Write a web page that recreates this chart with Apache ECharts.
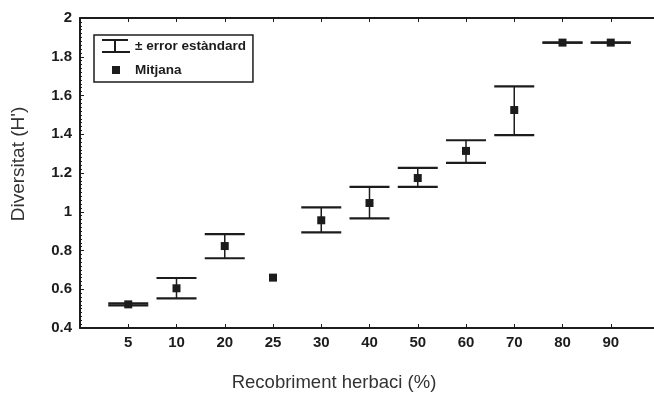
<!DOCTYPE html>
<html>
<head>
<meta charset="utf-8">
<script src="https://cdn.jsdelivr.net/npm/echarts@6/dist/echarts.min.js"></script>
<style>
  html, body { margin: 0; padding: 0; background: #fff; }
  #chart { width: 654px; height: 394px; }
</style>
</head>
<body>
<div id="chart"></div>
<script>
// herbaceous cover classes (%) and Shannon diversity per class
const categories = ['5', '10', '20', '25', '30', '40', '50', '60', '70', '80', '90']
const means = [0.522, 0.605, 0.823, 0.660, 0.956, 1.045, 1.174, 1.314, 1.525, 1.873, 1.873]
const upper = [0.527, 0.658, 0.885, null, 1.023, 1.128, 1.226, 1.369, 1.647, 1.873, 1.873]
const lower = [0.517, 0.553, 0.760, null, 0.894, 0.966, 1.128, 1.252, 1.396, 1.873, 1.873]
const yTicks = [0.4, 0.6, 0.8, 1, 1.2, 1.4, 1.6, 1.8, 2]

const ink = '#1c1c1c'
const font = 'Liberation Sans, Arial, sans-serif'
const errName = '± error estàndard'
const meanName = 'Mitjana'

const meanData = means.map((m, i) => [i, m])
const errData = []
means.forEach((m, i) => {
  if (upper[i] != null && lower[i] != null) errData.push([i, lower[i], upper[i]])
})

const xAxisBase = {
  type: 'value',
  min: -1,
  max: 11,
  interval: 1,
  axisLine: { show: true, onZero: false, lineStyle: { color: ink, width: 2 } },
  axisTick: { show: true, inside: true, length: 4, lineStyle: { color: ink, width: 1 } },
  splitLine: { show: false },
}

const chart = echarts.init(document.getElementById('chart'))
chart.setOption({
  backgroundColor: '#fff',
  animation: false,
  textStyle: { fontFamily: font },
  grid: { left: 80, top: 18, right: -5, bottom: 66, outerBoundsMode: 'none', containLabel: false },
  legend: {
    left: 94,
    top: 35,
    orient: 'vertical',
    padding: [4, 7, 5, 8],
    itemGap: 10,
    itemWidth: 28,
    itemHeight: 14,
    itemTextGap: 4,
    symbolKeepAspect: true,
    borderColor: ink,
    borderWidth: 1.5,
    borderRadius: 0,
    textStyle: { color: ink, fontSize: 13.5, fontWeight: 'bold', fontFamily: font },
    data: [
      { name: errName, icon: 'path://M0,0h26v2h-26zM12,1h2v12h-2zM0,12h28v2h-28z' },
      { name: meanName, icon: 'path://M0,0M28,14M10,3h8v8h-8z' },
    ],
  },
  xAxis: [
    {
      ...xAxisBase,
      position: 'bottom',
      axisLabel: {
        color: ink,
        fontSize: 15,
        fontWeight: 'bold',
        margin: 7,
        formatter: v => categories[v] ?? '',
      },
    },
    {
      ...xAxisBase,
      position: 'top',
      axisLabel: { show: false },
    },
  ],
  yAxis: {
    type: 'value',
    min: 0.4,
    max: 2,
    interval: 0.2,
    name: "Diversitat (H')",
    nameLocation: 'middle',
    nameGap: 52,
    nameTextStyle: { color: '#333', fontSize: 19, fontFamily: font, padding: [0, 0, 0, 18] },
    axisLine: { show: true, onZero: false, lineStyle: { color: ink, width: 2 } },
    axisTick: { show: true, inside: true, length: 4, lineStyle: { color: ink } },
    minorTick: { show: true, splitNumber: 10, length: 2, lineStyle: { color: ink } },
    splitLine: { show: false },
    axisLabel: {
      color: ink,
      fontSize: 15,
      fontWeight: 'bold',
      margin: 8,
      formatter: v => {
        const t = yTicks.find(k => Math.abs(k - v) < 1e-6)
        return t == null ? '' : String(t)
      },
    },
  },
  graphic: [
    {
      type: 'text',
      x: 334,
      y: 383,
      style: {
        text: 'Recobriment herbaci (%)',
        font: '18.5px ' + font,
        fill: '#333',
        align: 'center',
        verticalAlign: 'middle',
      },
    },
  ],
  series: [
    {
      name: errName,
      type: 'custom',
      data: errData,
      encode: { x: 0, y: [1, 2] },
      renderItem: (params, api) => {
        const x = api.value(0)
        const lo = api.coord([x, api.value(1)])
        const hi = api.coord([x, api.value(2)])
        const half = 20
        const cap = { stroke: ink, lineWidth: 2.2 }
        return {
          type: 'group',
          children: [
            { type: 'line', shape: { x1: lo[0], y1: lo[1], x2: hi[0], y2: hi[1] }, style: { stroke: ink, lineWidth: 1.5 } },
            { type: 'line', shape: { x1: hi[0] - half, y1: hi[1], x2: hi[0] + half, y2: hi[1] }, style: cap },
            { type: 'line', shape: { x1: lo[0] - half, y1: lo[1], x2: lo[0] + half, y2: lo[1] }, style: cap },
          ],
        }
      },
      itemStyle: { color: ink },
      z: 2,
    },
    {
      name: meanName,
      type: 'scatter',
      data: meanData,
      symbol: 'rect',
      symbolSize: 8,
      itemStyle: { color: ink, opacity: 1 },
      z: 3,
    },
  ],
})
</script>
</body>
</html>
